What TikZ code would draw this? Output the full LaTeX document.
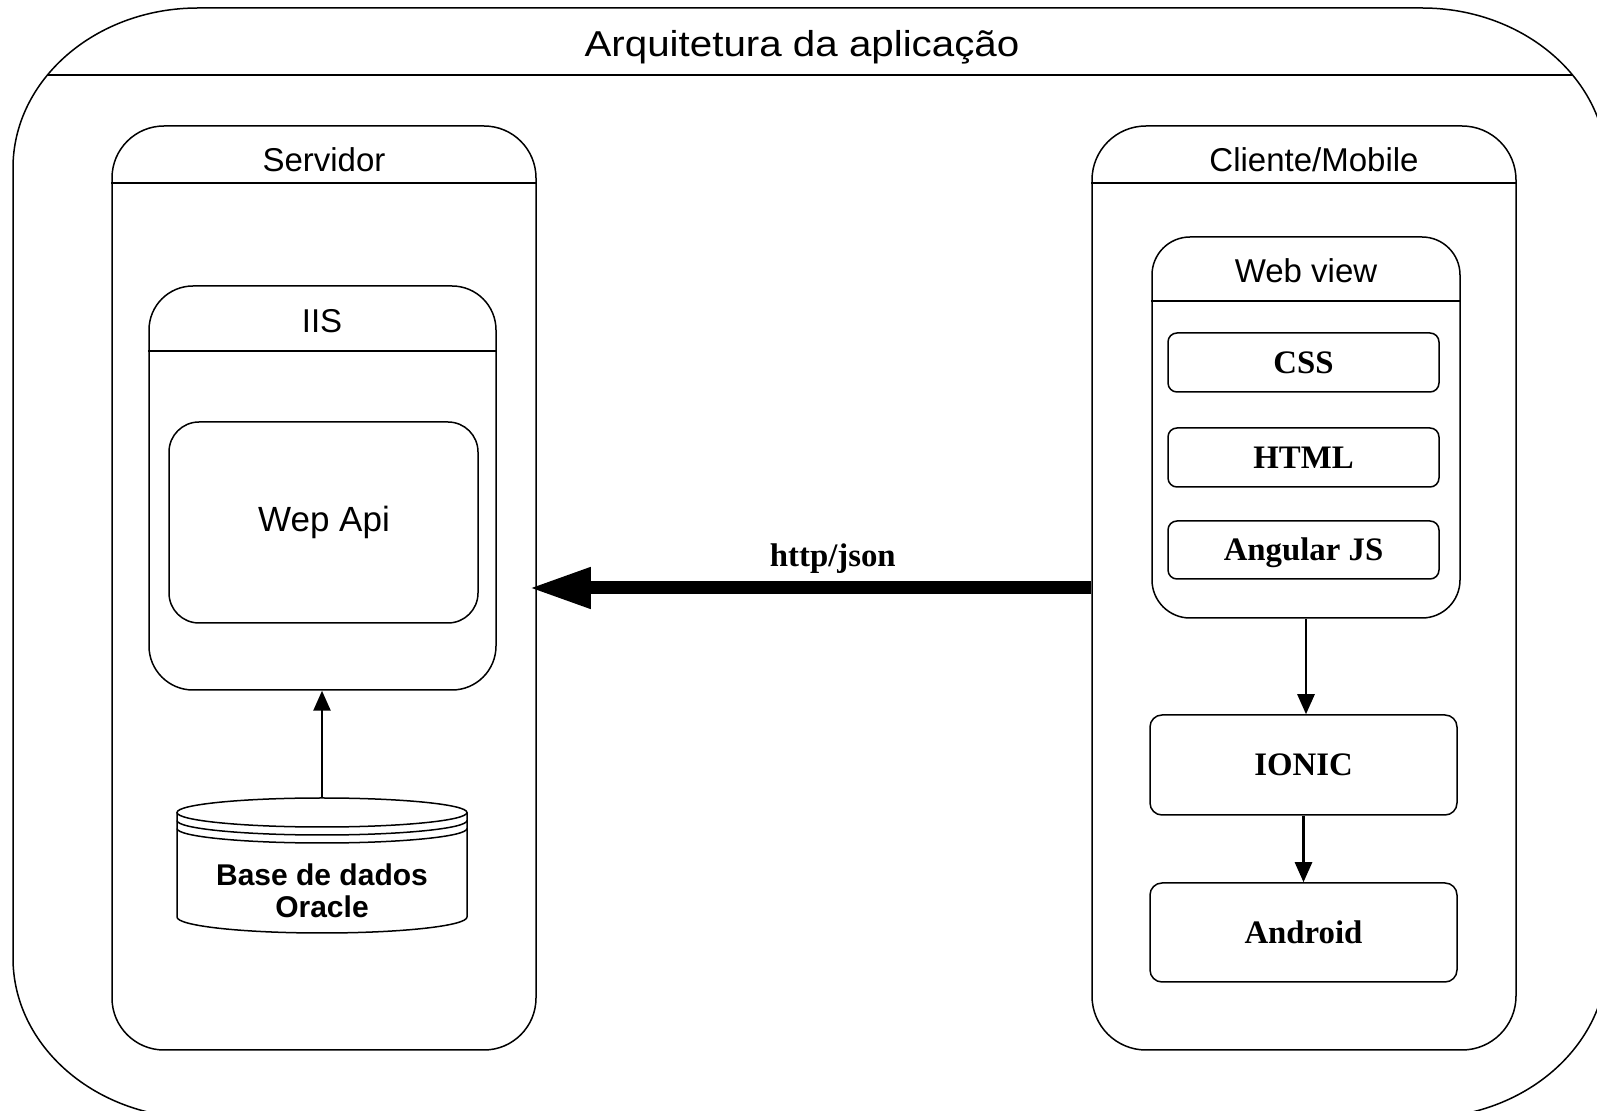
\documentclass[tikz,border=0pt]{standalone}
\usepackage{fontspec}
\setmainfont{Liberation Serif}
\setsansfont{Liberation Sans}
\newfontfamily\titlefont{Liberation Sans}[FakeStretch=1.12]
\usetikzlibrary{fit,arrows.meta,calc}
\begin{document}
\begin{tikzpicture}[x=0.5pt,y=-0.5pt,
  line/.style={line width=0.75pt},
  box/.style={draw, line width=0.75pt, inner sep=0pt},
  sanslbl/.style={font=\sffamily\fontsize{16.5pt}{19pt}\selectfont, inner sep=0pt, anchor=base},
  seriflbl/.style={font=\bfseries\fontsize{16.4pt}{19pt}\selectfont, inner sep=0pt, anchor=base},
  dblbl/.style={font=\sffamily\bfseries\fontsize{15pt}{16pt}\selectfont, inner sep=0pt, anchor=base},
  smallarrow/.style={line width=1.3pt, -{Triangle[length=10pt,width=8.5pt]}},
  bigarrow/.style={line width=6.5pt, line cap=butt, shorten >=-4pt, -{Triangle[length=31pt,width=19pt]}}
]
\useasboundingbox (0,0) rectangle (1597,1111);
\clip (0,0) rectangle (1597,1111);
\fill[white] (0,0) rectangle (1597,1111);

% outer container
\node[inner sep=0pt, fit={(13,8)(1607,1118)}] (outer) {};
\def\outerpath{(198,8) -- (1422,8) arc[start angle=90,end angle=0,x radius=92.5pt,y radius=80pt]
  -- (1607,958) arc[start angle=0,end angle=-90,x radius=92.5pt,y radius=80pt]
  -- (198,1118) arc[start angle=-90,end angle=-180,x radius=92.5pt,y radius=80pt]
  -- (13,168) arc[start angle=180,end angle=90,x radius=92.5pt,y radius=80pt] -- cycle}
\draw[line] \outerpath;
\begin{scope}
  \clip \outerpath;
  \draw[line] (outer.west |- 0,75) -- (outer.east |- 0,75);
\end{scope}
\node[sanslbl, font=\titlefont\fontsize{18pt}{21pt}\selectfont] (title) at (802,57) {Arquitetura da aplicação};

% Servidor
\node[box, rounded corners=26pt, fit={(112,126)(536,1050)}] (servidor) {};
\draw[line] ($(servidor.north west)+(0,58)$) -- ($(servidor.north east)+(0,58)$);
\node[sanslbl] (servlbl) at (324,172) {Servidor};

\node[box, rounded corners=22pt, fit={(149,286)(496,690)}] (iis) {};
\draw[line] ($(iis.north west)+(0,66)$) -- ($(iis.north east)+(0,66)$);
\node[sanslbl] (iislbl) at (322,333) {IIS};

\node[box, rounded corners=15pt, fit={(169,422)(478,623)}] (webapi) {};
\node[sanslbl, font=\sffamily\fontsize{17.5pt}{20pt}\selectfont] (webapilbl) at (324,532) {Wep Api};

% database
\node[inner sep=0pt, fit={(177,798)(467,933)}] (db) {};
\draw[line] (322,812.5) ellipse [x radius=72.5pt, y radius=7.25pt];
\draw[line] (177,820.5) arc[start angle=180,end angle=360,x radius=72.5pt,y radius=7.25pt];
\draw[line] (177,828.5) arc[start angle=180,end angle=360,x radius=72.5pt,y radius=7.25pt];
\draw[line] (177,812.5) -- (177,917) arc[start angle=180,end angle=360,x radius=72.5pt,y radius=8pt] -- (467,812.5);
\node[dblbl] (dbl1) at (322,886) {Base de dados};
\node[dblbl] (dbl2) at (322,918) {Oracle};

\draw[smallarrow] (db.north) -- (db.north |- iis.south);

% Cliente/Mobile
\node[box, rounded corners=27pt, fit={(1092,126)(1516,1050)}] (cliente) {};
\draw[line] ($(cliente.north west)+(0,58)$) -- ($(cliente.north east)+(0,58)$);
\node[sanslbl] (clilbl) at (1314,172) {Cliente/Mobile};

\node[box, rounded corners=19pt, fit={(1152,237)(1460,618)}] (webview) {};
\draw[line] ($(webview.north west)+(0,65)$) -- ($(webview.north east)+(0,65)$);
\node[sanslbl] (wvlbl) at (1306,283) {Web view};

\node[box, rounded corners=4.5pt, fit={(1168,333)(1439,392)}] (css) {};
\node[seriflbl] at (css.center) [yshift=-5.4pt] (csslbl) {CSS};
\node[box, rounded corners=4.5pt, fit={(1168,428)(1439,487)}] (html) {};
\node[seriflbl] at (html.center) [yshift=-5.4pt] (htmllbl) {HTML};
\node[box, rounded corners=4.5pt, fit={(1168,521)(1439,579)}] (angular) {};
\node[seriflbl] at (angular.center) [yshift=-5.4pt] (anglbl) {Angular JS};

\node[box, rounded corners=6pt, fit={(1150,715)(1457,815)}] (ionic) {};
\node[seriflbl] at (ionic.center) [yshift=-5.4pt] (ioniclbl) {IONIC};
\node[box, rounded corners=6pt, fit={(1150,883)(1457,982)}] (android) {};
\node[seriflbl] at (android.center) [yshift=-5.4pt] (androidlbl) {Android};

\draw[smallarrow] (webview.south) -- (webview.south |- ionic.north);
\draw[smallarrow] (ionic.south) -- (ionic.south |- android.north);

% http/json
\coordinate (hy) at (0,588);
\draw[bigarrow] (cliente.west |- hy) -- (servidor.east |- hy)
  node[pos=0.466, seriflbl, yshift=10.5pt] (httplbl) {http/json};
\end{tikzpicture}
\end{document}
